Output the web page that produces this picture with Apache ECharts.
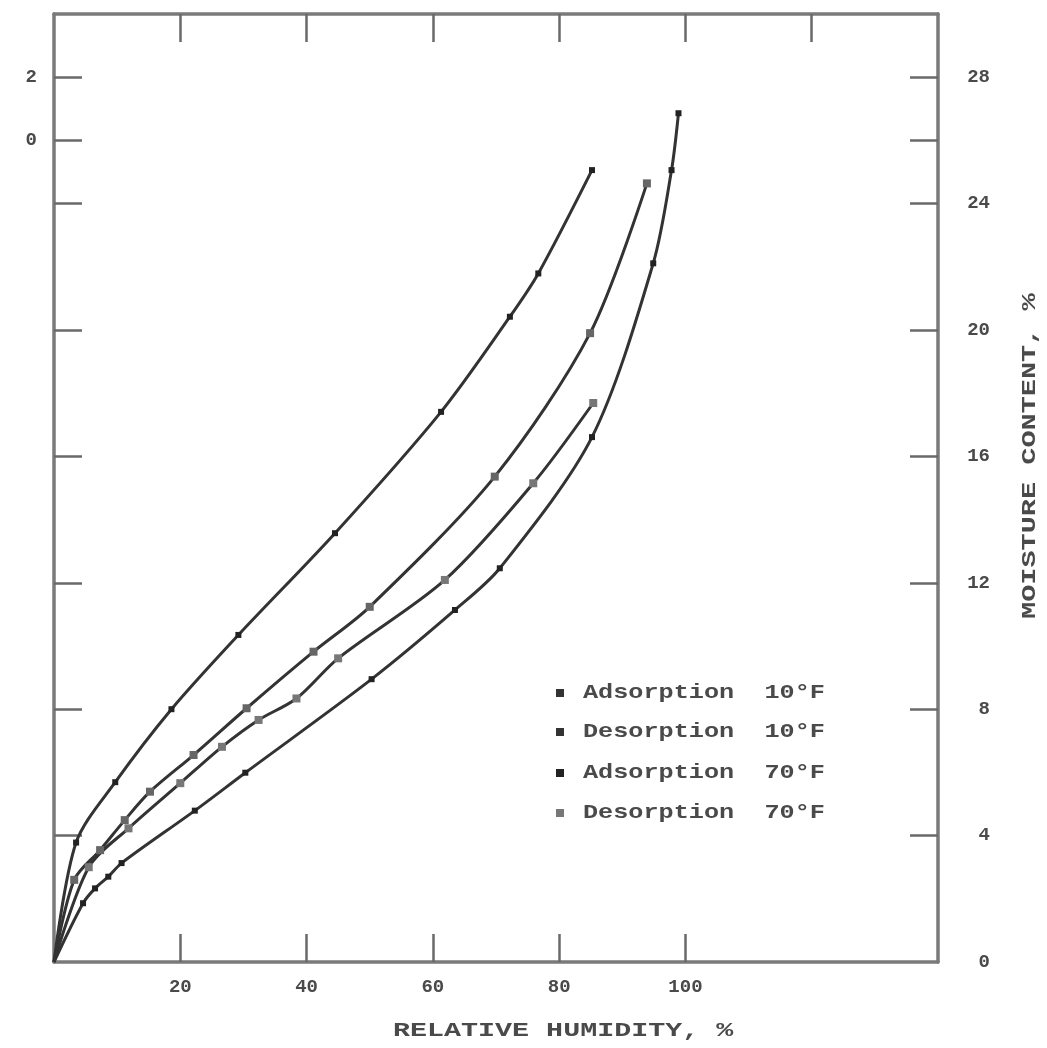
<!DOCTYPE html>
<html>
<head>
<meta charset="utf-8">
<title>Moisture sorption isotherms</title>
<script src="https://cdn.jsdelivr.net/npm/echarts@6/dist/echarts.min.js"></script>
<style>
  html, body { margin: 0; padding: 0; background: #ffffff; }
  #chart { width: 1047px; height: 1048px; }
</style>
</head>
<body>
<div id="chart"></div>
<script>
// Axis ticks and labels
const xTickValues = [20, 40, 60, 80, 100, 120];
const xLabelValues = [20, 40, 60, 80, 100];
const yTickValues = [4, 8, 12, 16, 20, 24, 26, 28];
const yRightLabelValues = [0, 4, 8, 12, 16, 20, 24, 28];
const yLeftLabelValues = [26, 28];
const yLeftLabelText = { 26: '0', 28: '2' };

// Legend entries (name + temperature)
const legendNames = ['Adsorption', 'Desorption', 'Adsorption', 'Desorption'];
const legendTemps = ['10°F', '10°F', '70°F', '70°F'];

// Relative humidity (%) and moisture content (%) for each isotherm
const rhAds10 = [0, 3.2, 7.3, 11.2, 15.2, 22.1, 30.5, 41.1, 50.0, 69.8, 84.9, 93.9];
const mcAds10 = [0, 2.6, 3.54, 4.49, 5.39, 6.55, 8.03, 9.82, 11.24, 15.36, 19.9, 24.64];

const rhDes10 = [0, 3.5, 9.7, 18.6, 29.2, 44.5, 61.3, 72.2, 76.7, 85.2];
const mcDes10 = [0, 3.78, 5.69, 8.0, 10.35, 13.57, 17.41, 20.42, 21.79, 25.06];

const rhAds70 = [0, 4.6, 6.5, 8.6, 10.7, 22.3, 30.3, 50.3, 63.5, 70.6, 85.2, 94.9, 97.8, 98.9];
const mcAds70 = [0, 1.86, 2.33, 2.70, 3.13, 4.79, 5.99, 8.95, 11.14, 12.46, 16.61, 22.11, 25.06, 26.86];

const rhDes70 = [0, 5.5, 11.8, 20.0, 26.6, 32.4, 38.4, 45.0, 61.9, 75.9, 85.4];
const mcDes70 = [0, 3.0, 4.23, 5.66, 6.81, 7.66, 8.34, 9.61, 12.09, 15.15, 17.69];

const pairs = (xs, ys) => xs.map((x, i) => [x, ys[i]]);

const TEXT = '#4a4a4a';
const AXIS = '#7a7a7a';
const MONO = '"Liberation Mono", "DejaVu Sans Mono", monospace';

function isotherm(name, xs, ys, markColor, markSize) {
  return {
    type: 'line',
    name: name,
    data: pairs(xs, ys),
    smooth: 0.3,
    symbol: 'rect',
    symbolSize: (v) => (v[0] === 0 ? 0 : markSize),
    lineStyle: { color: '#333333', width: 3 },
    itemStyle: { color: markColor, borderWidth: 0 },
    emphasis: { disabled: true },
    xAxisIndex: 0,
    yAxisIndex: 0
  };
}

const chart = echarts.init(document.getElementById('chart'), null, { renderer: 'canvas' });

const tickStyle = { show: true, inside: true, length: 28, lineStyle: { color: '#6a6a6a', width: 2.5 } };
const lineStyleAxis = { show: true, onZero: false, lineStyle: { color: AXIS, width: 3.5 } };

// Legend drawn as text rows with a square marker each
const legendTop = [693, 732, 773, 813];
const legendMarkColor = ['#333', '#333', '#222', '#777'];
const legendGraphics = [];
legendTop.forEach((y, i) => {
  legendGraphics.push({
    type: 'rect', shape: { x: 556, y: y - 4, width: 8, height: 8 },
    style: { fill: legendMarkColor[i] }
  });
  legendGraphics.push({
    type: 'text', x: 583, y: y, scaleX: 1.2,
    style: {
      text: legendNames[i] + '  ' + legendTemps[i],
      font: 'bold 21px ' + MONO, fill: TEXT,
      verticalAlign: 'middle', align: 'left'
    }
  });
});

const option = {
  backgroundColor: '#ffffff',
  animation: false,
  grid: { left: 54, right: 109, top: 14, bottom: 86, containLabel: false },
  xAxis: [
    {
      type: 'value', position: 'bottom', min: 0, max: 140, interval: 20,
      axisLine: lineStyleAxis,
      axisTick: Object.assign({}, tickStyle, { customValues: xTickValues.filter(v => v <= 100) }),
      axisLabel: {
        show: true, customValues: xLabelValues, margin: 16,
        color: TEXT, fontFamily: MONO, fontWeight: 'bold', fontSize: 19
      },
      splitLine: { show: false }
    },
    {
      type: 'value', position: 'top', min: 0, max: 140, interval: 20,
      axisLine: lineStyleAxis,
      axisTick: Object.assign({}, tickStyle, { customValues: xTickValues }),
      axisLabel: { show: false },
      splitLine: { show: false }
    }
  ],
  yAxis: [
    {
      type: 'value', position: 'left', min: 0, max: 30, interval: 2,
      axisLine: lineStyleAxis,
      axisTick: Object.assign({}, tickStyle, { customValues: yTickValues }),
      axisLabel: {
        show: true, customValues: yLeftLabelValues, margin: 17,
        formatter: (v) => yLeftLabelText[v] || '',
        color: TEXT, fontFamily: MONO, fontWeight: 'bold', fontSize: 19
      },
      splitLine: { show: false }
    },
    {
      type: 'value', position: 'right', min: 0, max: 30, interval: 2,
      axisLine: lineStyleAxis,
      axisTick: Object.assign({}, tickStyle, { customValues: yTickValues }),
      axisLabel: {
        show: true, customValues: yRightLabelValues, margin: 52, align: 'right',
        color: TEXT, fontFamily: MONO, fontWeight: 'bold', fontSize: 19
      },
      splitLine: { show: false }
    }
  ],
  series: [
    isotherm('Adsorption 10°F', rhAds10, mcAds10, '#666', 8),
    isotherm('Desorption 10°F', rhDes10, mcDes10, '#222', 6),
    isotherm('Adsorption 70°F', rhAds70, mcAds70, '#222', 6),
    isotherm('Desorption 70°F', rhDes70, mcDes70, '#777', 8)
  ],
  graphic: [
    {
      type: 'text', x: 393, y: 1031, scaleX: 1.35,
      style: {
        text: 'RELATIVE HUMIDITY, %', font: 'bold 21px ' + MONO, fill: TEXT,
        verticalAlign: 'middle', align: 'left'
      }
    },
    {
      type: 'text', x: 1030, y: 619, rotation: Math.PI / 2, scaleX: 1.36,
      style: {
        text: 'MOISTURE CONTENT, %', font: 'bold 21px ' + MONO, fill: TEXT,
        verticalAlign: 'middle', align: 'left'
      }
    }
  ].concat(legendGraphics)
};

chart.setOption(option);
</script>
</body>
</html>
